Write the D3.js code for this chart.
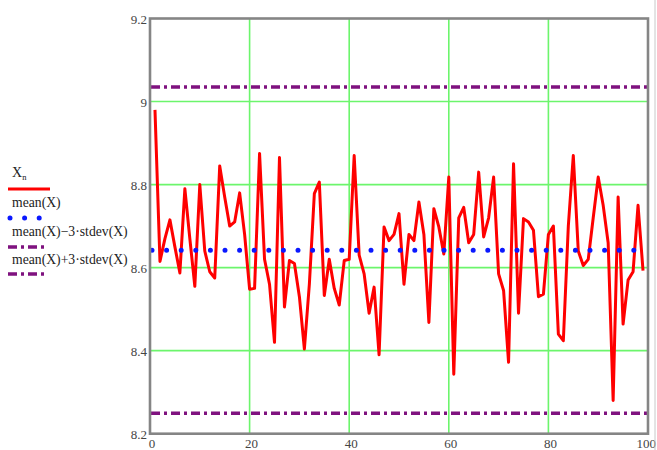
<!DOCTYPE html>
<html>
<head>
<meta charset="utf-8">
<script src="https://cdn.jsdelivr.net/npm/d3@7"></script>
<style>
html,body{margin:0;padding:0;background:#fff;}
svg{display:block;}
text{font-family:"Liberation Serif","DejaVu Serif",serif;}
</style>
</head>
<body>
<svg id="chart" width="657" height="450"></svg>
<script>
// ---- data ----
const values = [8.98,8.615,8.67,8.715,8.65,8.587,8.79,8.67,8.555,8.80,
8.64,8.59,8.575,8.845,8.77,8.70,8.71,8.78,8.68,8.548,
8.55,8.875,8.62,8.56,8.42,8.865,8.505,8.617,8.61,8.53,
8.404,8.56,8.778,8.806,8.533,8.62,8.55,8.51,8.617,8.62,
8.87,8.63,8.585,8.49,8.553,8.39,8.698,8.665,8.68,8.73,
8.56,8.68,8.665,8.758,8.68,8.468,8.742,8.698,8.633,8.818,
8.343,8.72,8.745,8.66,8.68,8.83,8.674,8.72,8.818,8.585,
8.545,8.372,8.85,8.49,8.718,8.71,8.69,8.53,8.536,8.68,
8.70,8.44,8.424,8.70,8.87,8.64,8.605,8.62,8.72,8.818,
8.75,8.66,8.28,8.77,8.464,8.57,8.59,8.75,8.593];
const meanX = 8.642;
const stdevX = 0.131;
const xTicks = [0,20,40,60,80,100];
const yTicks = [8.2,8.4,8.6,8.8,9,9.2];
const yTickLabels = ["8.2","8.4","8.6","8.8","9","9.2"];
const legendLabels = ["mean(X)","mean(X)\u22123\u00B7stdev(X)","mean(X)+3\u00B7stdev(X)"];

// ---- scales ----
const svg = d3.select("#chart");
const x = d3.scaleLinear().domain([0,100]).range([150,648]);
const y = d3.scaleLinear().domain([8.2,9.2]).range([433.7,18.5]);

// gridlines
const grid = svg.append("g");
grid.selectAll("line.vx").data(xTicks.slice(1,-1)).enter().append("line")
  .attr("x1",d=>x(d)).attr("x2",d=>x(d)).attr("y1",y(9.2)).attr("y2",y(8.2))
  .attr("stroke","#6cf56c").attr("stroke-width",1.6);
grid.selectAll("line.hy").data(yTicks.slice(1,-1)).enter().append("line")
  .attr("y1",d=>y(d)).attr("y2",d=>y(d)).attr("x1",x(0)).attr("x2",x(100))
  .attr("stroke","#6cf56c").attr("stroke-width",1.6);

// control limit lines
const purple = "#7f127f";
[meanX-3*stdevX, meanX+3*stdevX].forEach(v=>{
  svg.append("line").attr("x1",x(0)+1).attr("x2",x(100)).attr("y1",y(v)).attr("y2",y(v))
    .attr("stroke",purple).attr("stroke-width",3.5).attr("stroke-dasharray","9,4,3,4");
});

// data line
const line = d3.line().x((d,i)=>x(i+1)).y(d=>y(d));
svg.append("path").datum(values).attr("d",line)
  .attr("fill","none").attr("stroke","#ff0000").attr("stroke-width",3)
  .attr("stroke-linejoin","round");

// mean line (dotted)
svg.append("line").attr("x1",x(0)+2).attr("x2",x(100)).attr("y1",y(meanX)).attr("y2",y(meanX))
  .attr("stroke","#0a18ff").attr("stroke-width",5).attr("stroke-linecap","round")
  .attr("stroke-dasharray","0,14.6");

// frame
svg.append("rect").attr("x",x(0)).attr("y",y(9.2)).attr("width",x(100)-x(0)).attr("height",y(8.2)-y(9.2))
  .attr("fill","none").attr("stroke","#858585").attr("stroke-width",2.6);

// axes labels
svg.append("g").selectAll("text").data(yTicks).enter().append("text")
  .attr("x",x(0)-3).attr("y",d=>y(d)+1).attr("dy","0.35em").attr("text-anchor","end")
  .attr("font-size",13).attr("fill","#444")
  .text((d,i)=>yTickLabels[i]);
svg.append("g").selectAll("text").data(xTicks).enter().append("text")
  .attr("x",(d,i)=> i===xTicks.length-1 ? 656 : x(d)+2)
  .attr("y",y(8.2)+10).attr("dy","0.35em")
  .attr("text-anchor",(d,i)=> i===xTicks.length-1 ? "end" : "middle")
  .attr("font-size",13).attr("fill","#444")
  .text(d=>d);

// image edge line
svg.append("line").attr("x1",655).attr("x2",655).attr("y1",0).attr("y2",450)
  .attr("stroke","#c8c8c8").attr("stroke-width",1);

// legend
const lg = svg.append("g");
const xn = lg.append("text").attr("x",12).attr("y",177).attr("font-size",14).attr("fill","#222");
xn.append("tspan").text("X");
xn.append("tspan").attr("font-size",8.5).attr("dy",3).text("n");
lg.append("line").attr("x1",8).attr("x2",50).attr("y1",189).attr("y2",189)
  .attr("stroke","#ff0000").attr("stroke-width",3);

lg.append("text").attr("x",12).attr("y",207).attr("font-size",13.7).attr("fill","#222").text(legendLabels[0]);
lg.append("line").attr("x1",10).attr("x2",45).attr("y1",218).attr("y2",218)
  .attr("stroke","#0a18ff").attr("stroke-width",5).attr("stroke-linecap","round")
  .attr("stroke-dasharray","0,14.6");

lg.append("text").attr("x",12).attr("y",236).attr("font-size",13.7).attr("fill","#222").text(legendLabels[1]);
lg.append("line").attr("x1",8).attr("x2",44).attr("y1",247).attr("y2",247)
  .attr("stroke",purple).attr("stroke-width",3.5).attr("stroke-dasharray","9,4,3,4");

lg.append("text").attr("x",12).attr("y",264).attr("font-size",13.7).attr("fill","#222").text(legendLabels[2]);
lg.append("line").attr("x1",8).attr("x2",44).attr("y1",274).attr("y2",274)
  .attr("stroke",purple).attr("stroke-width",3.5).attr("stroke-dasharray","9,4,3,4");
</script>
</body>
</html>
